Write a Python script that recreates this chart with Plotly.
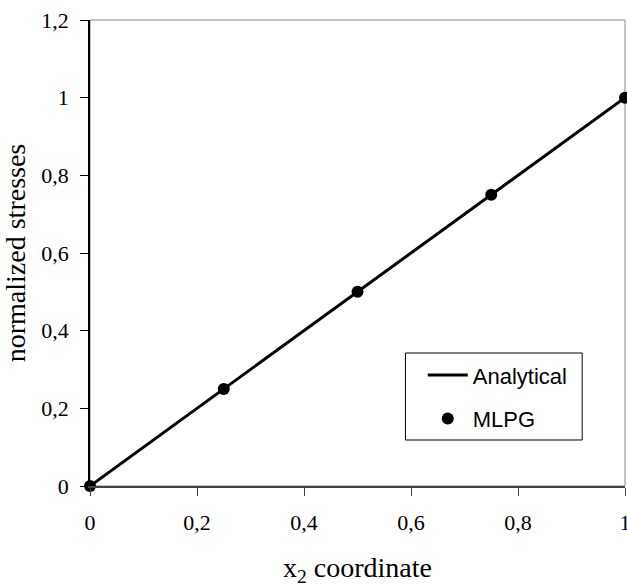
import plotly.graph_objects as go

# Analytical solution and MLPG results along x2
x_analytical = [0.0, 0.125, 0.25, 0.375, 0.5, 0.625, 0.75, 0.875, 1.0]
s_analytical = [0.0, 0.125, 0.25, 0.375, 0.5, 0.625, 0.75, 0.875, 1.0]

x_mlpg = [0.0, 0.25, 0.5, 0.75, 1.0]
s_mlpg = [0.0, 0.25, 0.5, 0.75, 1.0]

x_ticks = [0, 0.2, 0.4, 0.6, 0.8, 1.0]
x_ticklabels = ["0", "0,2", "0,4", "0,6", "0,8", "1"]
y_ticks = [0, 0.2, 0.4, 0.6, 0.8, 1.0, 1.2]
y_ticklabels = ["0", "0,2", "0,4", "0,6", "0,8", "1", "1,2"]

serif = "Liberation Serif, Times New Roman, serif"
sans = "Liberation Sans, Arial, sans-serif"

fig = go.Figure()
fig.add_trace(go.Scatter(
    x=x_analytical, y=s_analytical, mode="lines", name="Analytical",
    line=dict(color="black", width=3), legendgroup="a", cliponaxis=False,
))
fig.add_trace(go.Scatter(
    x=x_mlpg, y=s_mlpg, mode="markers", name="MLPG",
    marker=dict(color="black", size=12), legendgroup="b", cliponaxis=False,
))

# light frame on the top and right of the plotting area
fig.add_shape(type="rect", xref="paper", yref="paper", x0=0, y0=0, x1=1, y1=1,
              line=dict(color="#888888", width=1), layer="below")
# box around the legend
fig.add_shape(type="rect", xref="paper", yref="paper",
              x0=0.5896, y0=0.0987, x1=0.92, y1=0.2854,
              line=dict(color="black", width=1), fillcolor="white", layer="below")

fig.update_layout(
    width=627, height=587,
    margin=dict(l=90, r=2, t=20, b=101, autoexpand=False),
    paper_bgcolor="white", plot_bgcolor="white",
    showlegend=True,
    legend=dict(
        x=0.622, y=0.283, xanchor="left", yanchor="top",
        borderwidth=0, bgcolor="rgba(0,0,0,0)",
        font=dict(family=sans, size=22, color="black"),
        tracegroupgap=12, itemwidth=40,
    ),
    xaxis=dict(
        range=[0, 1], tickvals=x_ticks, ticktext=x_ticklabels,
        automargin=False,
        showgrid=False, zeroline=False,
        showline=True, linecolor="#444444", linewidth=2,
        ticks="outside", ticklen=8, tickcolor="#444444", tickwidth=1,
        ticklabelstandoff=8, ticklabeloverflow="allow",
        tickfont=dict(family=serif, size=22, color="black"),
        title=dict(text="x<sub>2</sub> coordinate", standoff=24,
                   font=dict(family=serif, size=28, color="black")),
    ),
    yaxis=dict(
        range=[0, 1.2], tickvals=y_ticks, ticktext=y_ticklabels,
        automargin=False,
        showgrid=False, zeroline=False,
        showline=True, linecolor="black", linewidth=1.5,
        ticks="outside", ticklen=8, tickcolor="black", tickwidth=1,
        ticklabelstandoff=7,
        tickfont=dict(family=serif, size=22, color="black"),
        title=dict(text="normalized stresses", standoff=10,
                   font=dict(family=serif, size=28, color="black")),
    ),
)

fig.write_html("out.html")
